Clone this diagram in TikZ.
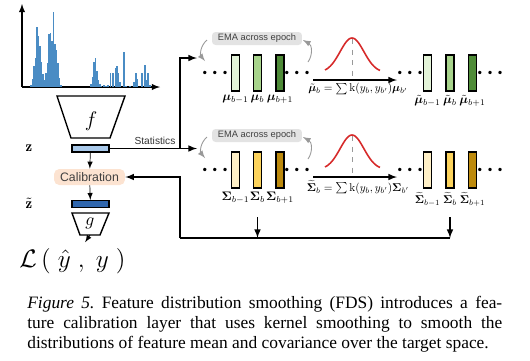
\documentclass[tikz,border=0pt]{standalone}
\usepackage{fontspec}
\usepackage{bm}
\usetikzlibrary{positioning}
\newfontfamily\sansf{Liberation Sans}
\newfontfamily\capfont{Liberation Serif}
\newcommand{\barlab}[1]{\scalebox{0.7}{$#1$}}
\newcommand{\smbarlab}[1]{\scalebox{0.64}{$#1$}}
\newcommand{\eqlab}[1]{\scalebox{0.64}{$#1$}}
\definecolor{histblue}{HTML}{4A8CC4}
\definecolor{zlight}{HTML}{A9C9EA}
\definecolor{zdark}{HTML}{2F66AD}
\definecolor{calfill}{HTML}{FCE3D1}
\definecolor{emagray}{HTML}{E3E3E3}
\definecolor{gA}{HTML}{E3F3D8}
\definecolor{gB}{HTML}{A8D48C}
\definecolor{gC}{HTML}{4E8B37}
\definecolor{yA}{HTML}{FFF0C7}
\definecolor{yB}{HTML}{FCD35C}
\definecolor{yC}{HTML}{BD8A0C}
\definecolor{gaussred}{HTML}{D62A2A}
\tikzset{
  bar/.style={draw, line width=0.6pt, minimum width=0.16cm, minimum height=0.72cm, inner sep=0pt},
  featbar/.style={draw, line width=0.6pt, minimum width=0.74cm, minimum height=0.14cm, inner sep=0pt},
  dots/.style={inner sep=0pt, font=\fontsize{6.5}{7}\selectfont},
  lbl/.style={inner sep=0pt, font=\fontsize{10}{12}\selectfont},
  emabox/.style={fill=emagray, rounded corners=2pt, minimum width=1.8cm, minimum height=0.26cm,
    inner sep=0pt, text=black!75, font=\sansf\fontsize{5.3}{6}\selectfont},
  ema/.style={draw=black!40, line width=0.5pt, ->},
  flow/.style={line width=0.7pt},
  gauss/.style={gaussred, line width=0.9pt},
}
\begin{document}
\begin{tikzpicture}[x=0.02cm, y=-0.02cm, >=latex]
  \useasboundingbox (0,0) rectangle (530,360);
  % label distribution
  \draw[->, line width=0.6pt] (22,87) -- (22,4);
  \draw[->, line width=0.6pt] (22,87) -- (160,87);
  \foreach \x/\t in {31/85, 32.5/79, 34/66, 35.5/58, 37/27, 38.5/36, 40/46, 41.5/62, 43/74,
      44.5/80, 46/73, 47.5/63, 49/34, 50.5/33, 52/41, 53.5/12, 55/44, 56.5/50, 58/63, 59.5/78,
      61/85, 91/84, 92.5/77, 94/62, 95.5/58, 97/71, 98.5/80, 100/84, 101.5/86, 104/85, 106/86,
      108/85, 110.5/73, 113/73, 115.5/68, 117/66, 118.5/73, 120/82, 124/52, 126/86, 130/86,
      134/82, 136/73, 137.5/79, 142/73, 145/65, 146.5/80, 148/73, 150/85}
    \fill[histblue] (\x-0.7,87) rectangle (\x+0.7,\t);
  % encoder, calibration and regressor
  \draw[line width=0.8pt] (57,96) -- (125,96) -- (110,138) -- (71,138) -- cycle;
  \node[font=\fontsize{13}{14}\selectfont] (f) at (91,121) {$f$};
  \node[featbar, fill=zlight] (z) at (90.5,148.5) {};
  \node[font=\fontsize{8.5}{9}\selectfont] (zlab) at (29,148) {$\mathbf{z}$};
  \node[fill=calfill, rounded corners=3pt, minimum width=1.42cm, minimum height=0.32cm, inner sep=0pt,
    text=black!75, font=\sansf\fontsize{7}{8}\selectfont] (cal) at (89.5,177) {Calibration};
  \node[featbar, fill=zdark] (zt) at (90.5,204) {};
  \node[font=\fontsize{8.5}{9}\selectfont] (ztlab) at (29,203) {$\tilde{\mathbf{z}}$};
  \draw[line width=0.8pt] (72,213) -- (109,213) -- (100,235) -- (80,235) -- cycle;
  \node[font=\fontsize{10}{11}\selectfont] (g) at (90,223) {$g$};
  \coordinate (gout) at (90,235);
  \node[font=\fontsize{14.5}{15}\selectfont] (loss) at (72.5,261) {$\mathcal{L}\,(\;\hat{y}\;,\;y\;)$};
  \draw[->] (z) -- (cal);
  \draw[->] (cal) -- (zt);
  \draw[->] (gout) -- (loss);
  % statistics
  \coordinate (split) at (180,148.5);
  \coordinate (topin) at (197,58);
  \coordinate (botin) at (197,148.5);
  \draw[flow] (z.east) -- (split);
  \node[text=black!80, font=\sansf\fontsize{5.8}{6}\selectfont] (stats) at (155,141) {Statistics};
  \draw[flow,->] (split) |- (topin);
  \draw[flow,->] (split) -- (botin);
  % feature mean
  \node[emabox] (emaT) at (257,38.5) {EMA across epoch};
  \draw[ema] (207,40) .. controls (200,46) and (200,55) .. (205,61);
  \draw[ema] (308,62) .. controls (313,55) and (312,45) .. (303,40);
  \node[dots] (dT1) at (215,73) {\textbullet\textbullet\textbullet};
  \node[bar, fill=gA] (m1) at (235.5,73) {};
  \node[bar, fill=gB] (m2) at (257.5,73) {};
  \node[bar, fill=gC] (m3) at (280,73) {};
  \node[dots] (dT2) at (297,73) {\textbullet\textbullet\textbullet};
  \node[lbl, below=2pt of m1] {\barlab{\bm{\mu}_{b-1}}};
  \node[lbl, below=2pt of m2] {\barlab{\bm{\mu}_{b}}};
  \node[lbl, below=2pt of m3] {\barlab{\bm{\mu}_{b+1}}};
  \coordinate (aT1) at (313,80);
  \coordinate (aT2) at (397,80);
  \draw[flow,->] (aT1) -- (aT2);
  \node[lbl, anchor=north] (eqT) at (358,83) {\eqlab{\tilde{\bm{\mu}}_b=\sum\mathrm{k}(y_b,y_{b'})\bm{\mu}_{b'}}};
  \draw[gauss] plot[domain=-27:28, samples=60] ({352+\x}, {72.6-34.6*exp(-(\x/16.8)^2)});
  \draw[black!40, dashed, line width=0.5pt] (352,39) -- (352,79);
  \node[dots] (dT3) at (410,73) {\textbullet\textbullet\textbullet};
  \node[bar, fill=gA] (mt1) at (427.5,73) {};
  \node[bar, fill=gB] (mt2) at (450,73) {};
  \node[bar, fill=gC] (mt3) at (472.5,73) {};
  \node[dots] (dT4) at (490,73) {\textbullet\textbullet\textbullet};
  \node[lbl, below=2pt of mt1] {\barlab{\tilde{\bm{\mu}}_{b-1}}};
  \node[lbl, below=2pt of mt2] {\barlab{\tilde{\bm{\mu}}_{b}}};
  \node[lbl, below=2pt of mt3] {\barlab{\tilde{\bm{\mu}}_{b+1}}};
  % feature covariance
  \node[emabox] (emaB) at (257,135.5) {EMA across epoch};
  \draw[ema] (207,137) .. controls (200,143) and (200,152) .. (205,158);
  \draw[ema] (308,159) .. controls (313,152) and (312,142) .. (303,137);
  \node[dots] (dB1) at (215,170) {\textbullet\textbullet\textbullet};
  \node[bar, fill=yA] (s1) at (235.5,170) {};
  \node[bar, fill=yB] (s2) at (257.5,170) {};
  \node[bar, fill=yC] (s3) at (280,170) {};
  \node[dots] (dB2) at (297,170) {\textbullet\textbullet\textbullet};
  \node[lbl, below=2pt of s1] {\barlab{\bm{\Sigma}_{b-1}}};
  \node[lbl, below=2pt of s2] {\barlab{\bm{\Sigma}_{b}}};
  \node[lbl, below=2pt of s3] {\barlab{\bm{\Sigma}_{b+1}}};
  \coordinate (aB1) at (313,177);
  \coordinate (aB2) at (397,177);
  \draw[flow,->] (aB1) -- (aB2);
  \node[lbl, anchor=north] (eqB) at (358,180) {\eqlab{\widetilde{\bm{\Sigma}}_b=\sum\mathrm{k}(y_b,y_{b'})\bm{\Sigma}_{b'}}};
  \draw[gauss] plot[domain=-27:28, samples=60] ({352+\x}, {169.6-34.6*exp(-(\x/16.8)^2)});
  \draw[black!40, dashed, line width=0.5pt] (352,136) -- (352,176);
  \node[dots] (dB3) at (410,170) {\textbullet\textbullet\textbullet};
  \node[bar, fill=yA] (st1) at (427.5,170) {};
  \node[bar, fill=yB] (st2) at (450,170) {};
  \node[bar, fill=yC] (st3) at (472.5,170) {};
  \node[dots] (dB4) at (490,170) {\textbullet\textbullet\textbullet};
  \node[lbl, below=2pt of st1] {\smbarlab{\widetilde{\bm{\Sigma}}_{b-1}}};
  \node[lbl, below=2pt of st2] {\smbarlab{\widetilde{\bm{\Sigma}}_{b}}};
  \node[lbl, below=2pt of st3] {\smbarlab{\widetilde{\bm{\Sigma}}_{b+1}}};
  % back to calibration
  \coordinate (r1) at (257.5,217);
  \coordinate (r2) at (450,217);
  \coordinate (c1) at (257.5,238);
  \coordinate (c2) at (450,238);
  \coordinate (c0) at (180,238);
  \draw[flow,->] (r1) -- (c1);
  \draw[flow,->] (r2) -- (c2);
  \draw[flow] (c0) -- (c2);
  \draw[flow,->] (c0) |- (cal.east);
  % caption
  \node[anchor=north west, inner sep=0pt, text width=9.5cm, align=justify,
    font=\capfont\fontsize{9.9}{11.34}\selectfont] (cap) at (27,296)
    {\frenchspacing\parfillskip=0pt \textit{Figure 5.} Feature distribution smoothing (FDS) introduces a fea-\linebreak
     ture calibration layer that uses kernel smoothing to smooth the\linebreak
     distributions of feature mean and covariance over the target space.};
\end{tikzpicture}
\end{document}
